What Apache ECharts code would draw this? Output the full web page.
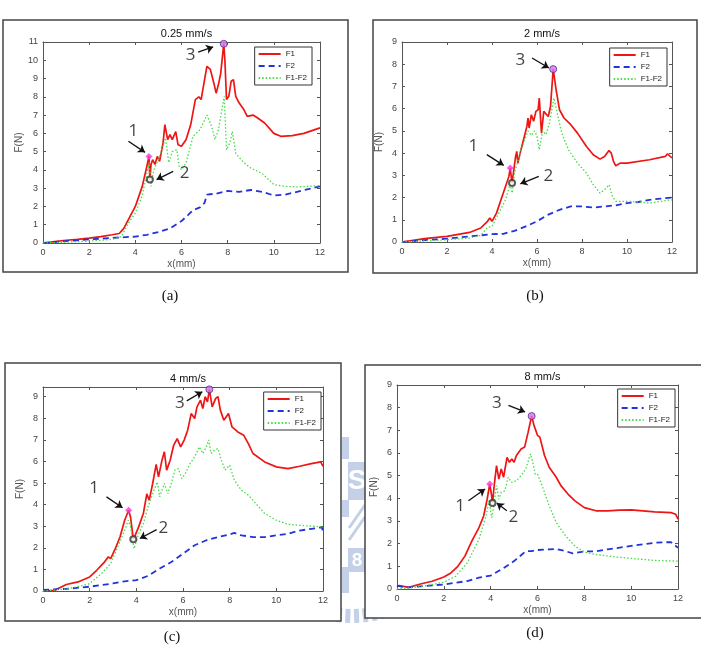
<!DOCTYPE html>
<html>
<head>
    <meta charset="utf-8">
    <script src="https://cdn.jsdelivr.net/npm/echarts@6/dist/echarts.min.js"></script>
    <style>
        html, body { margin: 0; padding: 0; background: #fff; }
        #main { width: 701px; height: 647px; }
    </style>
</head>
<body>
<div id="main"></div>
<script type="text/javascript">
    // ---- data: [x(mm), F(N)] ----
    var titles = ['0.25 mm/s', '2 mm/s', '4 mm/s', '8 mm/s'];
    var captions = ['(a)', '(b)', '(c)', '(d)'];
    var yMaxes = [11, 9, 9.45, 9];
    var legendNames = ['F1', 'F2', 'F1-F2'];

    var aF1 = [[0,0],[0.5,0.08],[1,0.15],[1.5,0.2],[2,0.27],[2.5,0.35],[3,0.45],[3.3,0.52],[3.5,0.8],[3.75,1.4],[4,2.0],[4.3,3.1],[4.5,4.2],[4.59,4.74],[4.63,3.47],[4.68,4.3],[4.75,4.56],[4.85,4.3],[4.95,4.74],[5.05,4.47],[5.2,5.47],[5.28,6.48],[5.4,5.66],[5.5,5.93],[5.6,5.66],[5.75,6.1],[5.85,5.38],[6.0,5.29],[6.2,5.66],[6.4,6.48],[6.6,7.85],[6.75,8.0],[6.85,7.85],[7.0,8.94],[7.1,9.67],[7.25,9.5],[7.4,8.76],[7.5,8.2],[7.6,8.67],[7.7,9.3],[7.83,10.9],[7.88,10.0],[7.95,7.85],[8.05,8.03],[8.15,8.85],[8.25,8.94],[8.35,8.03],[8.5,7.66],[8.7,7.3],[8.85,6.93],[9.1,7.0],[9.3,6.84],[9.6,6.57],[10.0,6.0],[10.3,5.84],[10.8,5.88],[11.3,6.0],[12,6.3]];
    var aF2 = [[0,0],[1,0.1],[2,0.2],[3,0.28],[4,0.35],[4.5,0.45],[5,0.6],[5.5,0.8],[6,1.2],[6.3,1.55],[6.5,1.8],[6.8,1.95],[7.0,2.2],[7.1,2.65],[7.5,2.7],[8,2.85],[8.5,2.8],[9,2.9],[9.5,2.8],[10,2.6],[10.5,2.65],[11,2.8],[12,3.1]];
    var aDiff = [[0,0],[1,0.05],[2,0.1],[3,0.2],[3.4,0.35],[3.7,1.1],[4,1.64],[4.3,2.6],[4.5,3.8],[4.6,4.4],[4.68,3.1],[4.8,4.0],[5.0,4.56],[5.2,5.3],[5.3,5.75],[5.45,4.4],[5.6,5.0],[5.8,5.1],[5.9,4.2],[6.0,4.0],[6.2,4.4],[6.5,5.84],[6.8,6.2],[7.1,7.0],[7.3,6.4],[7.45,5.66],[7.6,6.2],[7.85,8.03],[7.95,5.1],[8.1,5.5],[8.2,6.1],[8.35,4.9],[8.7,4.4],[9.0,4.1],[9.5,3.8],[10,3.2],[10.5,3.1],[11,3.07],[12,3.14]];

    var bF1 = [[0,0],[1,0.15],[2,0.25],[3,0.43],[3.5,0.63],[3.8,0.93],[3.9,1.08],[4.0,0.93],[4.2,1.3],[4.4,1.9],[4.6,2.5],[4.75,2.95],[4.81,3.33],[4.89,2.65],[4.95,3.1],[5.05,3.85],[5.1,4.08],[5.15,3.55],[5.25,4.0],[5.4,4.6],[5.55,5.2],[5.6,5.58],[5.65,5.13],[5.75,5.73],[5.85,5.43],[5.95,5.88],[6.05,5.95],[6.1,6.48],[6.2,4.9],[6.3,5.88],[6.5,5.65],[6.6,6.1],[6.72,7.78],[6.85,6.85],[7.0,5.95],[7.2,5.58],[7.5,5.28],[7.8,4.9],[8.2,4.3],[8.5,3.93],[8.8,3.73],[9.0,3.85],[9.2,4.12],[9.3,4.0],[9.4,3.63],[9.5,3.43],[9.7,3.55],[10,3.55],[11,3.7],[11.7,3.85],[11.8,3.97],[12,3.78]];
    var bF2 = [[0,0],[1,0.08],[2,0.15],[3,0.25],[4,0.35],[4.5,0.37],[5,0.5],[5.5,0.7],[6,0.93],[6.5,1.23],[7,1.45],[7.5,1.6],[8,1.6],[8.5,1.55],[9,1.6],[9.5,1.65],[10,1.75],[10.5,1.8],[11,1.9],[11.5,1.95],[12,2.0]];
    var bDiff = [[0,0],[1,0.05],[2,0.1],[3,0.18],[3.5,0.3],[3.8,0.66],[4.0,0.7],[4.3,1.3],[4.6,1.9],[4.8,2.6],[4.9,2.2],[5.0,3.1],[5.2,3.85],[5.4,4.45],[5.6,5.0],[5.75,4.8],[5.9,5.0],[6.0,4.75],[6.1,4.15],[6.25,5.0],[6.4,4.83],[6.55,5.35],[6.75,6.48],[6.9,5.8],[7.1,4.9],[7.4,4.15],[7.8,3.55],[8.2,3.1],[8.5,2.58],[8.8,2.2],[9.0,2.35],[9.2,2.58],[9.35,2.05],[9.5,1.83],[10,1.83],[10.5,1.8],[11,1.75],[12,1.9]];

    var cF1 = [[0,0],[0.5,0.03],[1,0.3],[1.5,0.42],[2,0.65],[2.3,0.96],[2.6,1.3],[2.8,1.58],[2.9,1.5],[3.1,1.96],[3.3,2.5],[3.5,3.28],[3.67,3.74],[3.75,3.43],[3.87,2.4],[3.95,2.58],[4.1,2.97],[4.3,3.59],[4.45,4.5],[4.55,4.2],[4.7,4.98],[4.85,5.87],[4.95,5.29],[5.1,6.06],[5.2,6.45],[5.3,5.6],[5.45,6.06],[5.6,6.75],[5.75,7.06],[5.9,6.68],[6.05,6.99],[6.2,7.45],[6.35,8.22],[6.5,7.99],[6.6,8.53],[6.75,8.84],[6.85,8.45],[6.95,9.0],[7.05,8.76],[7.13,9.34],[7.25,8.53],[7.4,8.92],[7.5,9.0],[7.6,8.38],[7.75,7.91],[7.95,8.22],[8.1,7.6],[8.35,7.37],[8.6,7.22],[8.8,6.83],[9.0,6.37],[9.5,5.98],[10,5.75],[10.5,5.67],[11,5.78],[11.5,5.9],[11.9,5.98],[12,5.78]];
    var cF2 = [[0,0.05],[1,0.1],[2,0.2],[3,0.35],[3.5,0.45],[4,0.5],[4.5,0.7],[5,1.04],[5.5,1.34],[6,1.73],[6.5,2.12],[7,2.35],[7.5,2.5],[8,2.62],[8.2,2.69],[8.5,2.58],[9,2.5],[9.5,2.5],[10,2.58],[10.5,2.65],[11,2.8],[11.5,2.88],[11.95,2.95],[12,2.75]];
    var cDiff = [[0,0],[1,0.1],[1.5,0.2],[2,0.34],[2.5,0.8],[2.9,1.27],[3.2,2.04],[3.5,2.81],[3.65,3.28],[3.75,2.97],[3.9,1.96],[4.1,2.66],[4.3,3.12],[4.5,3.9],[4.7,4.51],[4.9,5.05],[5.0,4.36],[5.2,4.98],[5.35,4.51],[5.5,4.98],[5.65,5.6],[5.8,5.67],[5.95,5.21],[6.1,5.44],[6.3,5.9],[6.5,6.21],[6.7,6.68],[6.85,6.37],[7.0,6.68],[7.1,7.0],[7.2,6.37],[7.35,6.52],[7.5,6.6],[7.6,6.21],[7.8,5.6],[8.0,5.83],[8.2,5.13],[8.5,4.67],[8.8,4.44],[9.0,4.2],[9.5,3.59],[10,3.28],[10.5,3.09],[11,3.04],[12,2.97]];

    var dF1 = [[0,0.1],[0.1,0.15],[0.5,0.07],[1,0.22],[1.5,0.34],[2,0.53],[2.3,0.71],[2.6,1.0],[2.9,1.45],[3.2,2.12],[3.5,2.71],[3.7,3.22],[3.85,3.96],[3.96,4.63],[4.02,4.26],[4.08,3.79],[4.15,4.56],[4.25,5.44],[4.35,4.85],[4.45,5.3],[4.55,4.93],[4.7,5.81],[4.8,5.59],[4.9,5.74],[5.0,5.59],[5.1,5.89],[5.3,6.18],[5.45,6.26],[5.6,6.92],[5.75,7.63],[5.85,7.22],[6.0,6.78],[6.1,6.7],[6.3,5.89],[6.5,5.37],[6.8,4.93],[7.0,4.56],[7.3,4.19],[7.6,3.89],[8.0,3.59],[8.5,3.45],[9.0,3.45],[9.5,3.48],[10,3.49],[10.5,3.45],[11,3.4],[11.7,3.37],[11.9,3.3],[12,3.08]];
    var dF2 = [[0,0.15],[0.2,0.1],[0.5,0.07],[1,0.12],[2,0.2],[3,0.35],[3.5,0.5],[4,0.59],[4.5,0.89],[5,1.23],[5.5,1.67],[5.75,1.67],[6.0,1.72],[6.5,1.75],[6.8,1.77],[7.2,1.67],[7.5,1.57],[8.0,1.66],[8.5,1.66],[9,1.75],[10,1.9],[11,2.04],[11.7,2.07],[12,1.82]];
    var dDiff = [[0,0],[1,0.1],[2,0.3],[2.5,0.56],[3.0,1.15],[3.5,2.19],[3.8,3.22],[3.95,3.96],[4.0,3.37],[4.05,3.15],[4.15,3.82],[4.25,4.56],[4.35,3.96],[4.45,4.26],[4.6,4.33],[4.75,4.93],[4.9,4.7],[5.1,4.78],[5.3,5.0],[5.5,5.3],[5.7,5.96],[5.8,5.59],[5.9,5.07],[6.0,5.07],[6.2,4.56],[6.5,3.67],[6.8,2.93],[7.2,2.34],[7.6,1.89],[8.0,1.63],[8.5,1.52],[9.0,1.45],[10,1.35],[11,1.26],[12,1.23]];

    // marked points 1, 2, 3 and the arrows / numbers pointing at them
    var aPts = [[4.59,4.74],[4.63,3.47],[7.83,10.9]];
    var bPts = [[4.81,3.33],[4.89,2.65],[6.72,7.78]];
    var cPts = [[3.67,3.74],[3.87,2.4],[7.13,9.34]];
    var dPts = [[3.96,4.63],[4.08,3.79],[5.75,7.63]];

    var aArrows = [[[3.7,5.57],[4.42,4.96]], [[5.64,3.92],[4.92,3.47]], [[6.72,10.44],[7.37,10.73]]];
    var bArrows = [[[3.77,3.93],[4.52,3.45]], [[6.08,2.95],[5.26,2.62]], [[5.78,8.28],[6.53,7.83]]];
    var cArrows = [[[2.72,4.36],[3.41,3.86]], [[4.87,2.84],[4.15,2.43]], [[6.16,8.81],[6.83,9.23]]];
    var dArrows = [[[3.05,3.89],[3.76,4.41]], [[4.69,3.45],[4.26,3.79]], [[4.76,8.1],[5.47,7.81]]];

    var aNums = [[3.91,6.11],[6.14,3.83],[6.4,10.3]];
    var bNums = [[3.17,4.3],[6.5,2.95],[5.26,8.2]];
    var cNums = [[2.19,4.78],[5.16,2.89],[5.87,8.69]];
    var dNums = [[2.7,3.67],[4.97,3.15],[4.26,8.18]];

    var allF1 = [aF1, bF1, cF1, dF1];
    var allF2 = [aF2, bF2, cF2, dF2];
    var allDiff = [aDiff, bDiff, cDiff, dDiff];
    var allPts = [aPts, bPts, cPts, dPts];
    var allArrows = [aArrows, bArrows, cArrows, dArrows];
    var allNums = [aNums, bNums, cNums, dNums];

    // ---- layout (pixels) ----
    var layout = [
        {box: [3, 20, 345, 252],  grid: [43, 42, 277, 201],  legend: [389, 47], cap: [170, 296]},
        {box: [373, 20, 324, 253], grid: [402, 42, 270, 200], legend: [34, 48],  cap: [535, 296]},
        {box: [5, 363, 336, 258],  grid: [43, 387, 280, 204], legend: [380, 392], cap: [172, 637]},
        {box: [365, 365, 345, 253], grid: [397, 385, 281, 204], legend: [26, 389], cap: [535, 633]}
    ];

    var FONT = '"Liberation Sans", Arial, sans-serif';
    var axisColor = '#555';

    var myChart = echarts.init(document.getElementById('main'));

    var grids = [], xAxes = [], yAxes = [], titleList = [], legends = [], series = [], graphics = [];

    // faint watermark behind the panels
    var wm = '#c3d0e8';
    graphics.push({type: 'rect', z: -10, shape: {x: 348, y: 462, width: 17, height: 38}, style: {fill: wm}});
    graphics.push({type: 'text', z: -9, style: {x: 357, y: 481, text: 'S', fill: '#fff', font: 'bold 28px ' + FONT, textAlign: 'center', textVerticalAlign: 'middle'}});
    graphics.push({type: 'line', z: -10, shape: {x1: 349, y1: 528, x2: 365, y2: 505}, style: {stroke: wm, lineWidth: 3}});
    graphics.push({type: 'line', z: -10, shape: {x1: 349, y1: 540, x2: 365, y2: 517}, style: {stroke: wm, lineWidth: 3}});
    graphics.push({type: 'rect', z: -10, shape: {x: 348, y: 548, width: 17, height: 24}, style: {fill: wm}});
    graphics.push({type: 'text', z: -9, style: {x: 357, y: 561, text: '8', fill: '#fff', font: 'bold 19px ' + FONT, textAlign: 'center', textVerticalAlign: 'middle'}});
    for (var k = 0; k < 14; k++) {
        var ang = (60 + k * 4.6) * Math.PI / 180;
        var cx = 352 + 108 * Math.cos(ang), cy = 508 + 108 * Math.sin(ang);
        graphics.push({type: 'rect', z: -10, x: cx, y: cy, rotation: -(ang - Math.PI / 2), shape: {x: -2.5, y: -7, width: 5, height: 14}, style: {fill: wm}});
    }
    [[342, 437, 7, 22], [342, 500, 7, 17], [342, 567, 7, 26]].forEach(function (r) {
        graphics.push({type: 'rect', z: -10, shape: {x: r[0], y: r[1], width: r[2], height: r[3]}, style: {fill: wm}});
    });

    for (var i = 0; i < 4; i++) {
        var L = layout[i];
        var g = L.grid;

        // figure frame of the panel
        graphics.push({type: 'rect', z: -1, shape: {x: L.box[0], y: L.box[1], width: L.box[2], height: L.box[3]},
            style: {fill: '#fff', stroke: '#444', lineWidth: 1.5}});
        graphics.push({type: 'text', z: 5, style: {x: L.cap[0], y: L.cap[1], text: captions[i], fill: '#111',
            font: '15px "Liberation Serif", "Times New Roman", serif', textAlign: 'center', textVerticalAlign: 'middle'}});

        grids.push({left: g[0], top: g[1], width: g[2], height: g[3], show: true, backgroundColor: '#fff', borderWidth: 0});

        titleList.push({
            text: titles[i], left: g[0] + g[2] / 2, top: g[1] - 19, textAlign: 'center',
            textStyle: {fontSize: 11, fontWeight: 'normal', color: '#111', fontFamily: FONT}
        });

        var tick = {inside: true, length: 3, lineStyle: {color: axisColor}};
        var line = {show: true, onZero: false, lineStyle: {color: axisColor, width: 1}};
        var lbl = {fontSize: 9, color: '#444', fontFamily: FONT};

        xAxes.push({
            type: 'value', gridIndex: i, min: 0, max: 12, interval: 2, position: 'bottom',
            axisLine: line, axisTick: tick, splitLine: {show: false},
            axisLabel: Object.assign({margin: 5}, lbl),
            name: 'x(mm)', nameLocation: 'middle', nameGap: 16,
            nameTextStyle: {fontSize: 10, color: '#555', fontFamily: FONT}
        });
        xAxes.push({
            type: 'value', gridIndex: i, min: 0, max: 12, interval: 2, position: 'top',
            axisLine: line, axisTick: tick, splitLine: {show: false}, axisLabel: {show: false}
        });
        yAxes.push({
            type: 'value', gridIndex: i, min: 0, max: yMaxes[i], interval: 1, position: 'left',
            axisLine: line, axisTick: tick, splitLine: {show: false},
            axisLabel: Object.assign({margin: 5, formatter: function (v) { return v % 1 === 0 ? v : ''; }}, lbl),
            name: 'F(N)', nameLocation: 'middle', nameGap: 18,
            nameTextStyle: {fontSize: 10, color: '#555', fontFamily: FONT}
        });
        yAxes.push({
            type: 'value', gridIndex: i, min: 0, max: yMaxes[i], interval: 1, position: 'right',
            axisLine: line, axisTick: tick, splitLine: {show: false}, axisLabel: {show: false}
        });

        legends.push({
            right: L.legend[0], top: L.legend[1], orient: 'vertical', data: legendNames,
            itemWidth: 22, itemHeight: 8, itemGap: 4, padding: [3, 5, 3, 3],
            borderColor: '#333', borderWidth: 1, backgroundColor: '#fff',
            textStyle: {fontSize: 8, color: '#222', fontFamily: FONT},
            itemStyle: {opacity: 0}, selectedMode: false
        });

        var xi = 2 * i, yi = 2 * i;
        series.push({
            name: 'F1', type: 'line', xAxisIndex: xi, yAxisIndex: yi, data: allF1[i],
            symbol: 'none', lineStyle: {color: '#ee1515', width: 1.7}, itemStyle: {color: '#ee1515'}, z: 3
        });
        series.push({
            name: 'F2', type: 'line', xAxisIndex: xi, yAxisIndex: yi, data: allF2[i],
            symbol: 'none', lineStyle: {color: '#2233dd', width: 1.8, type: [6, 4]}, itemStyle: {color: '#2233dd'}, z: 3
        });
        series.push({
            name: 'F1-F2', type: 'line', xAxisIndex: xi, yAxisIndex: yi, data: allDiff[i],
            symbol: 'none', lineStyle: {color: '#44dd44', width: 1.3, type: [1.5, 2]}, itemStyle: {color: '#44dd44'}, z: 4
        });

        var pts = allPts[i];
        series.push({
            type: 'scatter', xAxisIndex: xi, yAxisIndex: yi, z: 6, silent: true,
            data: [
                {value: pts[0], symbol: 'diamond', symbolSize: 7, itemStyle: {color: '#ff33dd'}},
                {value: pts[1], symbol: 'emptyCircle', symbolSize: 6, itemStyle: {color: '#333', borderColor: '#333', borderWidth: 1}},
                {value: pts[2], symbol: 'circle', symbolSize: 7, itemStyle: {color: '#e070e0', borderColor: '#4a3399', borderWidth: 1}}
            ]
        });

        series.push({
            type: 'lines', coordinateSystem: 'cartesian2d', xAxisIndex: xi, yAxisIndex: yi, z: 6, silent: true,
            symbol: ['none', 'arrow'], symbolSize: 7,
            lineStyle: {color: '#111', width: 1.3, opacity: 1},
            data: allArrows[i].map(function (a) { return {coords: a}; })
        });

        series.push({
            type: 'scatter', xAxisIndex: xi, yAxisIndex: yi, z: 6, silent: true,
            symbolSize: 1, itemStyle: {color: 'rgba(0,0,0,0)'},
            label: {show: true, position: 'inside', formatter: '{b}', fontSize: 17, color: '#111', fontFamily: '"Open Sans", ' + FONT},
            data: allNums[i].map(function (p, j) { return {name: String(j + 1), value: p}; })
        });
    }

    var option = {
        animation: false,
        backgroundColor: '#fff',
        title: titleList,
        grid: grids,
        xAxis: xAxes,
        yAxis: yAxes,
        legend: legends,
        graphic: graphics,
        series: series
    };

    myChart.setOption(option);
</script>
</body>
</html>
